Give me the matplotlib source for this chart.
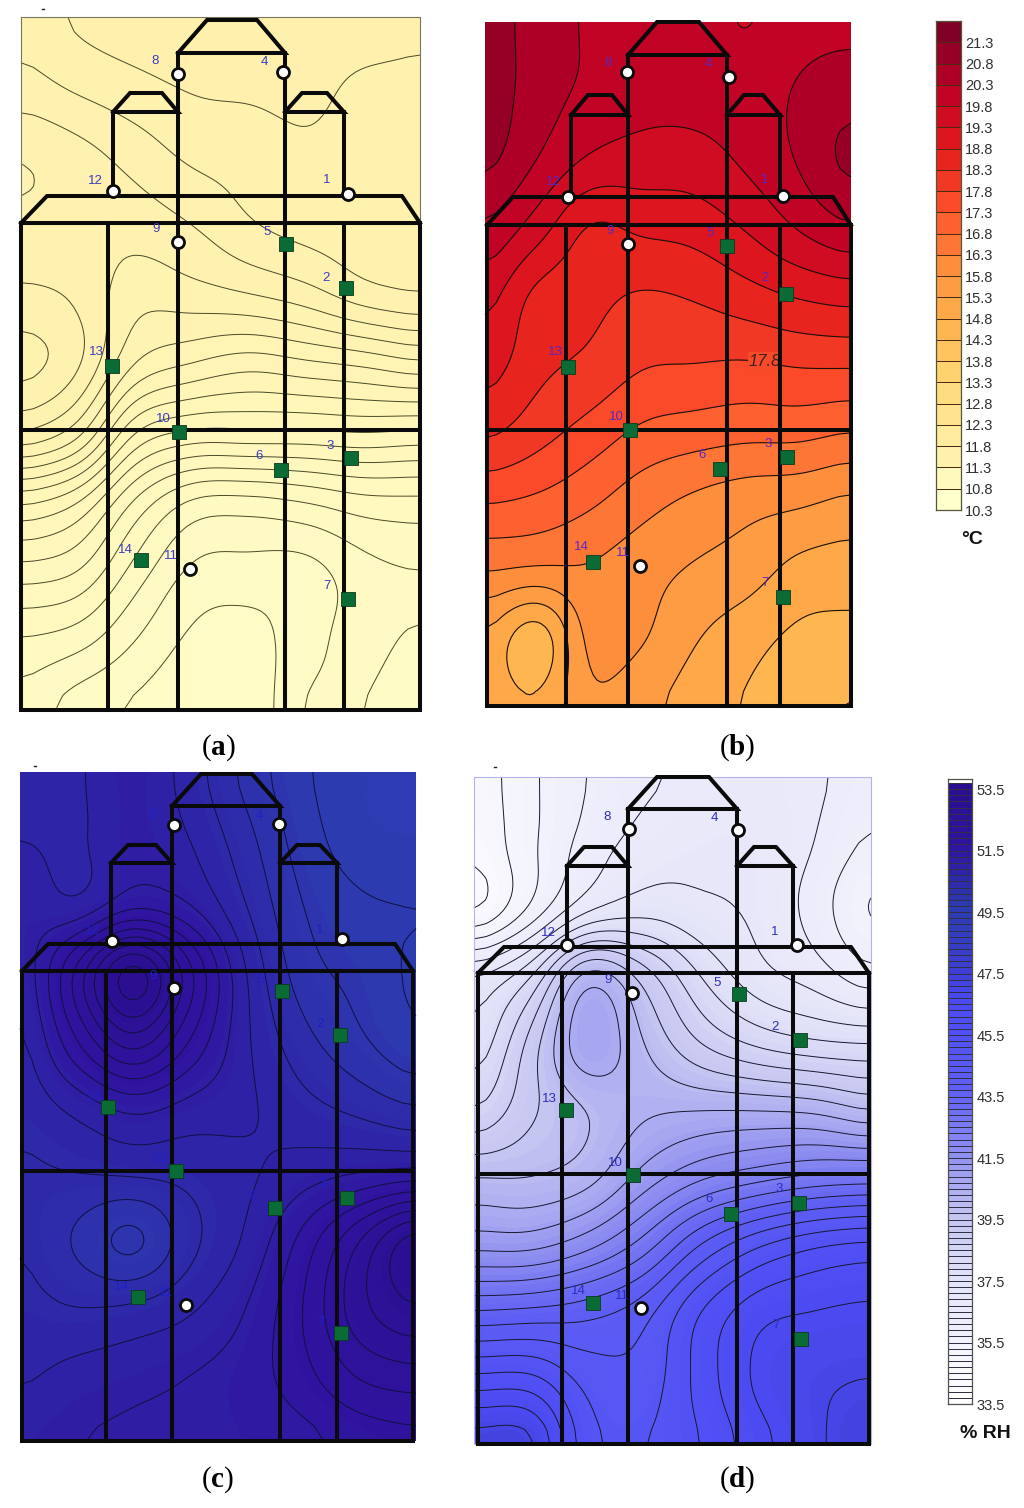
import numpy as np
import matplotlib
matplotlib.use('Agg')
import matplotlib.pyplot as plt
from matplotlib.colors import LinearSegmentedColormap, BoundaryNorm

plt.rcParams['font.family'] = ['Liberation Sans', 'DejaVu Sans']
plt.rcParams['mathtext.fontset'] = 'custom'
plt.rcParams['mathtext.bf'] = 'Liberation Serif:bold'

# fields, rows top to bottom
temp_a = [[11.72,11.76,11.78,11.79,11.79,11.78,11.78,11.76],
          [11.68,11.71,11.735,11.755,11.76,11.765,11.74,11.74],
          [11.60,11.63,11.67,11.71,11.72,11.74,11.73,11.73],
          [11.61,11.615,11.62,11.65,11.695,11.72,11.725,11.72],
          [11.66,11.64,11.57,11.58,11.60,11.63,11.68,11.70],
          [11.72,11.66,11.50,11.45,11.42,11.44,11.46,11.49],
          [11.60,11.52,11.30,11.24,11.24,11.24,11.25,11.24],
          [11.31,11.25,11.09,10.99,10.98,11.00,11.03,11.035],
          [11.13,11.10,10.98,10.89,10.88,10.88,10.93,10.95],
          [10.995,10.97,10.90,10.84,10.83,10.88,10.92,10.885],
          [10.93,10.87,10.84,10.81,10.81,10.905,10.90,10.85]]
temp_b = [[21.1,20.55,20.25,20.1,20.05,19.75,20.1,20.15],
          [21.1,20.55,20.2,20.0,20.0,20.05,20.35,20.6],
          [20.95,20.3,19.75,19.6,19.6,19.9,20.35,20.95],
          [20.25,19.55,18.75,18.9,19.0,19.35,19.85,20.25],
          [19.5,18.65,18.45,18.25,18.35,18.6,18.85,19.0],
          [19.05,18.45,18.2,17.85,17.8,17.75,17.85,17.87],
          [18.4,18.0,17.6,17.2,17.05,16.95,16.95,16.8],
          [17.35,17.2,16.9,16.5,16.2,16.0,15.9,15.7],
          [16.35,16.25,16.25,16.0,15.75,15.55,15.15,15.05],
          [15.25,14.45,15.95,15.85,15.35,15.0,14.7,14.65],
          [15.1,14.9,15.7,15.45,15.05,14.75,14.45,14.25]]
rh_c = [[50.7,50.85,51.15,50.75,50.2,49.75,49.5,49.4],
        [50.9,50.85,51.15,50.9,50.4,49.85,49.55,49.5],
        [51.1,50.95,51.4,51.2,50.6,50.0,49.75,49.7],
        [50.95,52.2,53.5,52.2,50.9,50.15,49.9,49.65],
        [50.8,51.8,52.6,51.8,50.95,50.4,50.05,49.75],
        [50.7,51.0,51.3,51.1,50.95,50.7,50.5,50.3],
        [50.55,50.6,50.65,50.7,50.85,51.05,51.2,51.3],
        [50.6,50.25,49.9,50.5,50.95,51.6,52.4,53.2],
        [50.7,50.6,50.65,50.85,51.2,51.8,52.6,53.0],
        [50.85,51.0,51.1,51.2,51.35,51.7,52.15,52.3],
        [51.1,51.2,51.25,51.25,51.3,51.4,51.6,51.7]]
rh_d = [[34.7,35.4,36.0,36.4,36.6,36.7,36.6,36.2],
        [34.6,35.4,36.2,36.7,36.9,36.9,36.5,35.9],
        [34.4,35.6,36.9,37.3,37.1,36.9,36.3,35.4],
        [37.0,38.0,40.3,39.3,38.0,37.2,36.8,36.2],
        [37.6,39.2,40.9,40.0,39.0,38.4,38.1,38.0],
        [38.5,39.4,40.0,40.4,40.5,40.5,40.4,40.0],
        [40.0,40.0,40.3,41.2,41.9,42.3,42.6,42.7],
        [41.3,41.3,41.8,42.7,44.0,44.9,45.4,45.6],
        [43.5,43.6,43.8,44.3,45.5,46.3,46.5,46.6],
        [45.6,45.6,44.8,44.7,45.7,46.6,46.9,47.0],
        [47.3,47.2,45.2,45.0,45.5,46.3,46.9,47.3]]

sensor_ids = [1,2,3,4,5,6,7,8,9,10,11,12,13,14]
square_ids = [2,3,5,6,7,10,13,14]

sensors_a = [(348,194),(346,288),(351,458),(283,72),(286,244),(281,470),(348,599),(178,74),(178,242),(179,432),(190,569),(113,191),(112,366),(141,560)]
labels_a = [(327,180),(326,278),(330,446),(264,62),(267,232),(259,456),(327,586),(155,61),(156,229),(163,419),(171,556),(95,181),(96,352),(125,550)]
sensors_b = [(783,196),(786,294),(787,457),(729,77),(727,246),(720,469),(783,597),(627,72),(628,244),(630,430),(640,566),(568,197),(568,367),(593,562)]
labels_b = [(765,180),(765,278),(768,444),(708,64),(710,233),(702,455),(765,583),(608,63),(610,231),(616,417),(623,553),(553,182),(555,352),(581,547)]
sensors_c = [(342,939),(340,1035),(347,1198),(279,824),(282,991),(275,1208),(341,1333),(174,825),(174,988),(176,1171),(186,1305),(112,941),(108,1107),(138,1297)]
labels_c = [(320,930),(320,1024),(323,1183),(259,816),(261,980),(253,1196),(321,1322),(152,815),(153,976),(159,1159),(166,1293),(92,931),(93,1097),(121,1287)]
sensors_d = [(797,945),(800,1040),(799,1203),(738,830),(739,994),(731,1214),(801,1339),(629,829),(632,993),(633,1175),(641,1308),(567,945),(566,1110),(593,1303)]
labels_d = [(775,932),(775,1027),(779,1189),(714,818),(717,983),(709,1199),(776,1325),(607,817),(608,980),(615,1163),(622,1296),(548,933),(549,1099),(578,1291)]

temp_ticks = ['21.3','20.8','20.3','19.8','19.3','18.8','18.3','17.8','17.3','16.8','16.3','15.8',
              '15.3','14.8','14.3','13.8','13.3','12.8','12.3','11.8','11.3','10.8','10.3']
rh_ticks = ['53.5','51.5','49.5','47.5','45.5','43.5','41.5','39.5','37.5','35.5','33.5']

temp_edges = np.arange(10.3, 22.0, 0.5)
rh_edges = np.arange(33.5, 53.9, 0.2)
temp_cmap = plt.get_cmap('YlOrRd')
temp_norm = BoundaryNorm(temp_edges, temp_cmap.N)
rh_cmap = LinearSegmentedColormap.from_list('rh', [(0, '#ffffff'), (0.1, '#f2f2fc'), (0.2, '#e2e2f8'), (0.3, '#c4c4f2'),
                                                   (0.4, '#9090f0'), (0.5, '#6060f4'), (0.6, '#5050f4'),
                                                   (0.65, '#4a4af0'), (0.7, '#3e3ed4'), (0.8, '#2c3cb0'),
                                                   (0.9, '#3014a0'), (1, '#2a0e8e')])
rh_norm = BoundaryNorm(rh_edges, rh_cmap.N)
pale_cmap = LinearSegmentedColormap.from_list('pale', ['#fffcc6', '#fff0ac'])

fig = plt.figure(figsize=(10.24, 15.08), dpi=100)
ax = fig.add_axes([0, 0, 1, 1])
ax.set_xlim(0, 1024)
ax.set_ylim(1508, 0)
ax.axis('off')


def spline_weights(m, n=14):
    # cubic convolution weights from m coarse nodes to fine nodes, then a box to calm the kinks
    t = np.linspace(0, m - 1, (m - 1) * n + 1)
    w = np.zeros((t.size, m))
    for k, v in enumerate(t):
        i = min(int(v), m - 2)
        f = v - i
        c = [-0.5*f**3 + f**2 - 0.5*f, 1.5*f**3 - 2.5*f**2 + 1, -1.5*f**3 + 2*f**2 + 0.5*f, 0.5*f**3 - 0.5*f**2]
        for j, cj in zip(range(i - 1, i + 3), c):
            w[k, min(max(j, 0), m - 1)] += cj
    half = n // 4
    out = np.zeros_like(w)
    for k in range(t.size):
        out[k] = w[max(k - half, 0):min(k + half + 1, t.size)].mean(axis=0)
    return out


def draw_field(box, values, edges, cmap, norm, line_levels, line_color, line_width):
    x0, y0, x1, y1 = box
    z = np.array(values)
    zf = spline_weights(z.shape[0]) @ z @ spline_weights(z.shape[1]).T
    gx = np.linspace(x0, x1, zf.shape[1])
    gy = np.linspace(y0, y1, zf.shape[0])
    ax.contourf(gx, gy, zf, levels=edges, cmap=cmap, norm=norm, extend='both', zorder=1)
    ax.contour(gx, gy, zf, levels=line_levels, colors=line_color, linewidths=line_width, zorder=2)


def draw_building(xs, ys):
    # xs: left wall, 4 inner walls, right wall. ys: tower top, tower base, wing top, wing base, roof, eave, mid, floor
    xl, x1, x2, x3, x4, xr = xs
    yt, yb, wt, wb, rf, ev, md, fl = ys
    kw = dict(color='#0a0a0a', lw=2.9, solid_joinstyle='miter', zorder=3)
    ax.plot([xl, xr, xr, xl, xl], [ev, ev, fl, fl, ev], **kw)
    ax.plot([xl, xr], [md, md], **kw)
    ax.plot([xl, xl+26, xr-18, xr], [ev, rf, rf, ev], **kw)
    ax.plot([x1, x1], [ev, fl], **kw)
    ax.plot([x2, x2], [yb, fl], **kw)
    ax.plot([x3, x3], [yb, fl], **kw)
    ax.plot([x4, x4], [ev, fl], **kw)
    w1 = x1 + 5
    ax.plot([w1, w1], [wb, rf], **kw)
    ax.plot([x4, x4], [wb, rf], **kw)
    ax.plot([x2, x2+29, x3-28, x3, x2], [yb, yt, yt, yb, yb], **kw)
    ax.plot([w1, w1+17, x2-16, x2, w1], [wb, wt, wt, wb, wb], **kw)
    ax.plot([x3, x3+17, x4-17, x4, x3], [wb, wt, wt, wb, wb], **kw)


def draw_sensors(points, labels, color):
    for sid, (px, py), (lx, ly) in zip(sensor_ids, points, labels):
        if sid in square_ids:
            ax.scatter(px, py, s=95, marker='s', color='#0b6b35', edgecolors='#0a3a20', linewidths=0.6, zorder=5)
        else:
            ax.scatter(px, py, s=75, marker='o', color='white', edgecolors='#0a0a0a', linewidths=2.0, zorder=5)
        ax.text(lx, ly, str(sid), color=color, fontsize=9.5, ha='center', va='center', zorder=6)


draw_field((21, 17, 420, 710), temp_a, np.arange(10.8, 11.85, 0.05), pale_cmap, None,
           np.arange(10.85, 11.8, 0.05), '#4a4a28', 0.7)
draw_field((485, 22, 851, 706), temp_b, temp_edges, temp_cmap, temp_norm,
           np.arange(14.3, 21.5, 0.5), '#1a1008', 0.8)
draw_field((20, 772, 416, 1441), rh_c, rh_edges, rh_cmap, rh_norm,
           np.arange(49.7, 53.4, 0.3), '#101040', 0.7)
draw_field((474, 777, 871, 1444), rh_d, rh_edges, rh_cmap, rh_norm,
           np.arange(34.0, 47.5, 0.5), '#181830', 0.7)

ax.plot([21, 420, 420, 21, 21], [17, 17, 710, 710, 17], color='#777760', lw=0.8, zorder=2)
ax.plot([474, 871, 871, 474, 474], [777, 777, 1444, 1444, 777], color='#b4b4e8', lw=0.8, zorder=2)

draw_building((21, 108, 178, 285, 344, 420), (20, 53, 93, 112, 196, 223, 430, 710))
draw_building((487, 566, 628, 727, 780, 851), (22, 55, 95, 115, 197, 225, 430, 706))
draw_building((22, 106, 172, 280, 337, 413), (774, 806, 845, 863, 944, 971, 1171, 1441))
draw_building((478, 562, 628, 737, 793, 869), (777, 809, 847, 866, 947, 973, 1174, 1444))

draw_sensors(sensors_a, labels_a, '#3c3cc0')
draw_sensors(sensors_b, labels_b, '#5a28c0')
draw_sensors(sensors_c, labels_c, '#2020c8')
draw_sensors(sensors_d, labels_d, '#2c2cc0')

ax.text(765, 361, '17.8', fontsize=12, style='italic', color='#402020', ha='center', va='center', zorder=2.5,
        bbox=dict(facecolor='#f64a28', edgecolor='none', pad=0.8))

# stray specks above the panels
for sx, sy in [(43, 9), (35, 766), (495, 767)]:
    ax.plot([sx - 1, sx + 1], [sy, sy], color='#222222', lw=1)

for cap, cx, cy in [('a', 218, 748), ('b', 737, 748), ('c', 218, 1480), ('d', 737, 1480)]:
    ax.text(cx, cy, '($\\mathbf{%s}$)' % cap, family='Liberation Serif', fontsize=21, ha='center', va='center')

# colour scales
W, H = 1024.0, 1508.0
cax = fig.add_axes([936/W, 1-510/H, 25/W, 489/H])
cax.pcolormesh([0, 1], temp_edges, np.array([temp_edges[:-1]]).T, cmap=temp_cmap, norm=temp_norm,
               edgecolors='#4a2a10', linewidth=0.6)
cax.set_ylim(10.3, 21.8)
cax.set_xticks([])
cax.yaxis.tick_right()
cax.set_yticks([float(t) for t in temp_ticks], temp_ticks, fontsize=10.5, color='#303030')
cax.tick_params(axis='y', length=0, pad=3)
for s in cax.spines.values():
    s.set_color('#55553a')
    s.set_linewidth(0.9)

rax = fig.add_axes([948/W, 1-1404/H, 24/W, 625/H])
rax.pcolormesh([0, 1], rh_edges, np.array([rh_edges[:-1]]).T, cmap=rh_cmap, norm=rh_norm,
               edgecolors='#303048', linewidth=0.5)
rax.set_ylim(33.5, 53.83)
rax.set_xticks([])
rax.yaxis.tick_right()
rax.set_yticks([float(t) for t in rh_ticks], rh_ticks, fontsize=10.5, color='#303030')
rax.tick_params(axis='y', length=0, pad=3)
for s in rax.spines.values():
    s.set_color('#505050')
    s.set_linewidth(0.9)

ax.text(972, 539, '°C', fontsize=14, fontweight='bold', color='#111111', ha='center', va='center')
ax.text(985, 1433, '% RH', fontsize=14, fontweight='bold', color='#111111', ha='center', va='center')

fig.savefig('out.png', dpi=100)
